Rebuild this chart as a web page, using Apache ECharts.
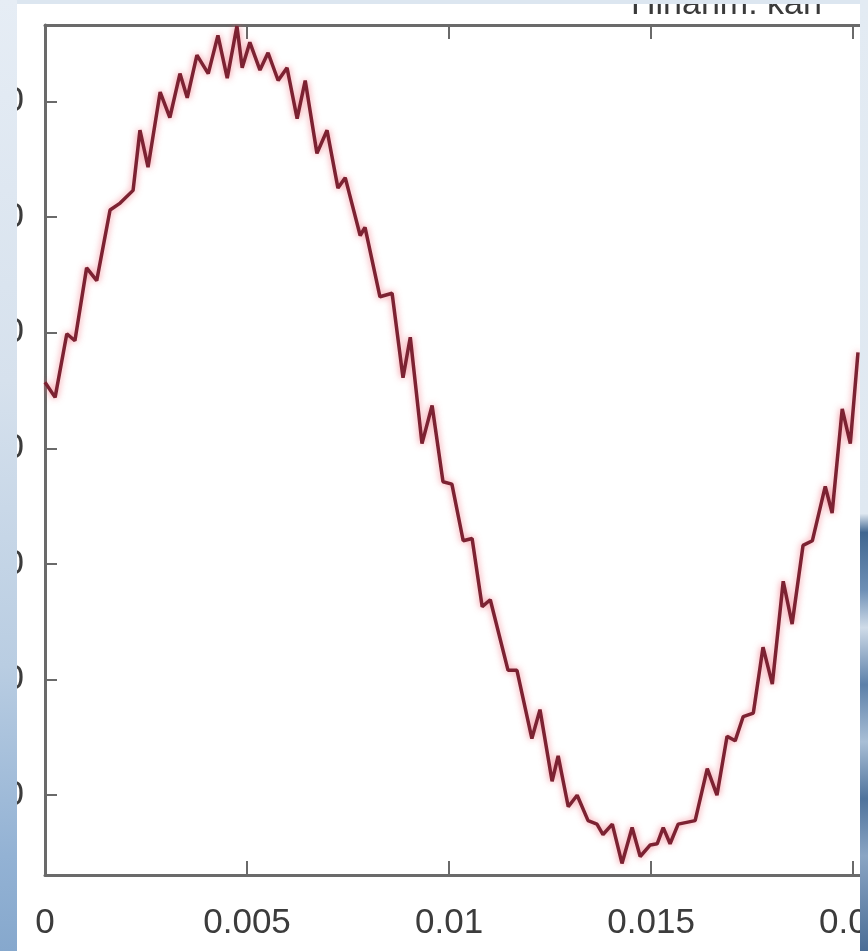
<!DOCTYPE html>
<html>
<head>
<meta charset="utf-8">
<script src="https://cdn.jsdelivr.net/npm/echarts@6/dist/echarts.min.js"></script>
<style>
  html, body { margin: 0; padding: 0; width: 868px; height: 951px; overflow: hidden; }
  body {
    position: relative;
    background: #dce6f0;
  }
  #leftband {
    position: absolute; left: 0; top: 0; width: 17px; height: 951px;
    background: linear-gradient(to bottom, #e6edf5 0%, #d6e1ed 40%, #b9cde2 70%, #93b2d4 90%, #86a8cd 100%);
  }
  #rightband {
    position: absolute; left: 860px; top: 0; width: 8px; height: 951px;
    background: linear-gradient(to bottom, #e3ebf3 0%, #dfe8f1 54%, #3f6690 56%, #6d8fb5 62%, #cfdbe8 66%, #5c80a9 72%, #a9bfd6 78%, #4f739c 84%, #8aa5c4 90%, #4a6d96 100%);
  }
  #chart {
    position: absolute; left: 17px; top: 4px; width: 843px; height: 947px;
    background: #ffffff;
  }
</style>
</head>
<body>
<div id="leftband"></div>
<div id="rightband"></div>
<div id="chart"></div>
<script>
// ---- data ----
const titleText = "Hinahm. kan";
const xTickValues = [0, 0.005, 0.01, 0.015, 0.02];
const xTickLabels = ["0", "0.005", "0.01", "0.015", "0.02"];
const yTickValues = [-30, -20, -10, 0, 10, 20, 30];
const yTickLabels = ["-30", "-20", "-10", "0", "10", "20", "30"];

const timeValues = [
  0.00000, 0.00025, 0.00054, 0.00074, 0.00103, 0.00128, 0.00161, 0.00186, 0.00218, 0.00235,
  0.00255, 0.00285, 0.00309, 0.00334, 0.00352, 0.00376, 0.00404, 0.00428, 0.00451, 0.00475,
  0.00488, 0.00507, 0.00532, 0.00552, 0.00577, 0.00599, 0.00624, 0.00644, 0.00673, 0.00698,
  0.00725, 0.00743, 0.00780, 0.00792, 0.00829, 0.00859, 0.00886, 0.00904, 0.00933, 0.00958,
  0.00985, 0.01007, 0.01035, 0.01057, 0.01082, 0.01102, 0.01146, 0.01168, 0.01205, 0.01225,
  0.01255, 0.01270, 0.01295, 0.01317, 0.01344, 0.01366, 0.01381, 0.01404, 0.01428, 0.01453,
  0.01473, 0.01498, 0.01515, 0.01530, 0.01547, 0.01567, 0.01609, 0.01639, 0.01663, 0.01688,
  0.01708, 0.01728, 0.01753, 0.01777, 0.01800, 0.01827, 0.01849, 0.01876, 0.01899, 0.01931,
  0.01948, 0.01973, 0.01993, 0.02012
];
const signalValues = [
  5.7, 4.4, 9.9, 9.3, 15.6, 14.5, 20.6, 21.2, 22.3, 27.5,
  24.3, 30.8, 28.6, 32.4, 30.3, 34.0, 32.4, 35.7, 32.0, 36.5,
  32.9, 35.1, 32.7, 34.2, 31.8, 32.9, 28.5, 31.8, 25.5, 27.5,
  22.5, 23.4, 18.4, 19.1, 13.1, 13.4, 6.1, 9.6, 0.4, 3.7,
  -2.9, -3.1, -8.0, -7.8, -13.7, -13.1, -19.2, -19.2, -25.1, -22.6,
  -28.8, -26.6, -31.0, -30.0, -32.2, -32.5, -33.4, -32.5, -35.9, -32.8,
  -35.3, -34.3, -34.2, -32.8, -34.2, -32.5, -32.2, -27.7, -30.0, -24.9,
  -25.3, -23.2, -22.9, -17.2, -20.4, -11.5, -15.2, -8.4, -8.0, -3.3,
  -5.6, 3.4, 0.4, 8.3
];

const seriesData = timeValues.map((t, i) => [t, signalValues[i]]);

const chart = echarts.init(document.getElementById('chart'), null, { renderer: 'canvas' });

const axisColor = '#6a6a6a';
const textColor = '#3c3c3c';
const fontFamily = '"Liberation Sans", Arial, Helvetica, sans-serif';

chart.setOption({
  animation: false,
  backgroundColor: '#ffffff',
  title: {
    text: titleText,
    left: 609,
    top: -21,
    textStyle: { fontFamily: fontFamily, fontSize: 34, fontWeight: 'normal', color: '#3a3a3a' }
  },
  grid: { left: 28, right: 0, top: 21, bottom: 76, containLabel: false, outerBoundsMode: 'none' },
  xAxis: [
    {
      type: 'value',
      position: 'bottom',
      min: 0,
      max: 0.02017,
      axisLine: { show: true, onZero: false, lineStyle: { color: axisColor, width: 3 } },
      axisTick: { show: true, inside: true, length: 14, customValues: xTickValues, lineStyle: { color: axisColor, width: 2 } },
      axisLabel: {
        show: true,
        customValues: xTickValues,
        margin: 31,
        color: textColor,
        fontFamily: fontFamily,
        fontSize: 35,
        formatter: function (v) {
          const i = xTickValues.findIndex(x => Math.abs(x - v) < 1e-9);
          return i >= 0 ? xTickLabels[i] : '';
        }
      },
      splitLine: { show: false }
    },
    {
      type: 'value',
      position: 'top',
      min: 0,
      max: 0.02017,
      axisLine: { show: true, onZero: false, lineStyle: { color: axisColor, width: 3 } },
      axisTick: { show: true, inside: true, length: 14, customValues: xTickValues, lineStyle: { color: axisColor, width: 2 } },
      axisLabel: { show: false },
      splitLine: { show: false }
    }
  ],
  yAxis: {
    type: 'value',
    min: -36.9,
    max: 36.6,
    axisLine: { show: true, onZero: false, lineStyle: { color: axisColor, width: 3 } },
    axisTick: { show: true, inside: true, length: 12, customValues: yTickValues, lineStyle: { color: axisColor, width: 2 } },
    axisLabel: {
      show: true,
      customValues: yTickValues,
      margin: 21,
      color: textColor,
      fontFamily: fontFamily,
      fontSize: 35,
      formatter: function (v) {
        const i = yTickValues.findIndex(y => Math.abs(y - v) < 1e-9);
        return i >= 0 ? yTickLabels[i] : '';
      }
    },
    splitLine: { show: false }
  },
  series: [
    {
      type: 'line',
      xAxisIndex: 0,
      data: seriesData,
      showSymbol: false,
      smooth: false,
      clip: true,
      lineStyle: {
        color: '#7c2232',
        width: 3.5,
        shadowColor: 'rgba(240, 95, 110, 0.75)',
        shadowBlur: 7
      }
    }
  ]
});
</script>
</body>
</html>
